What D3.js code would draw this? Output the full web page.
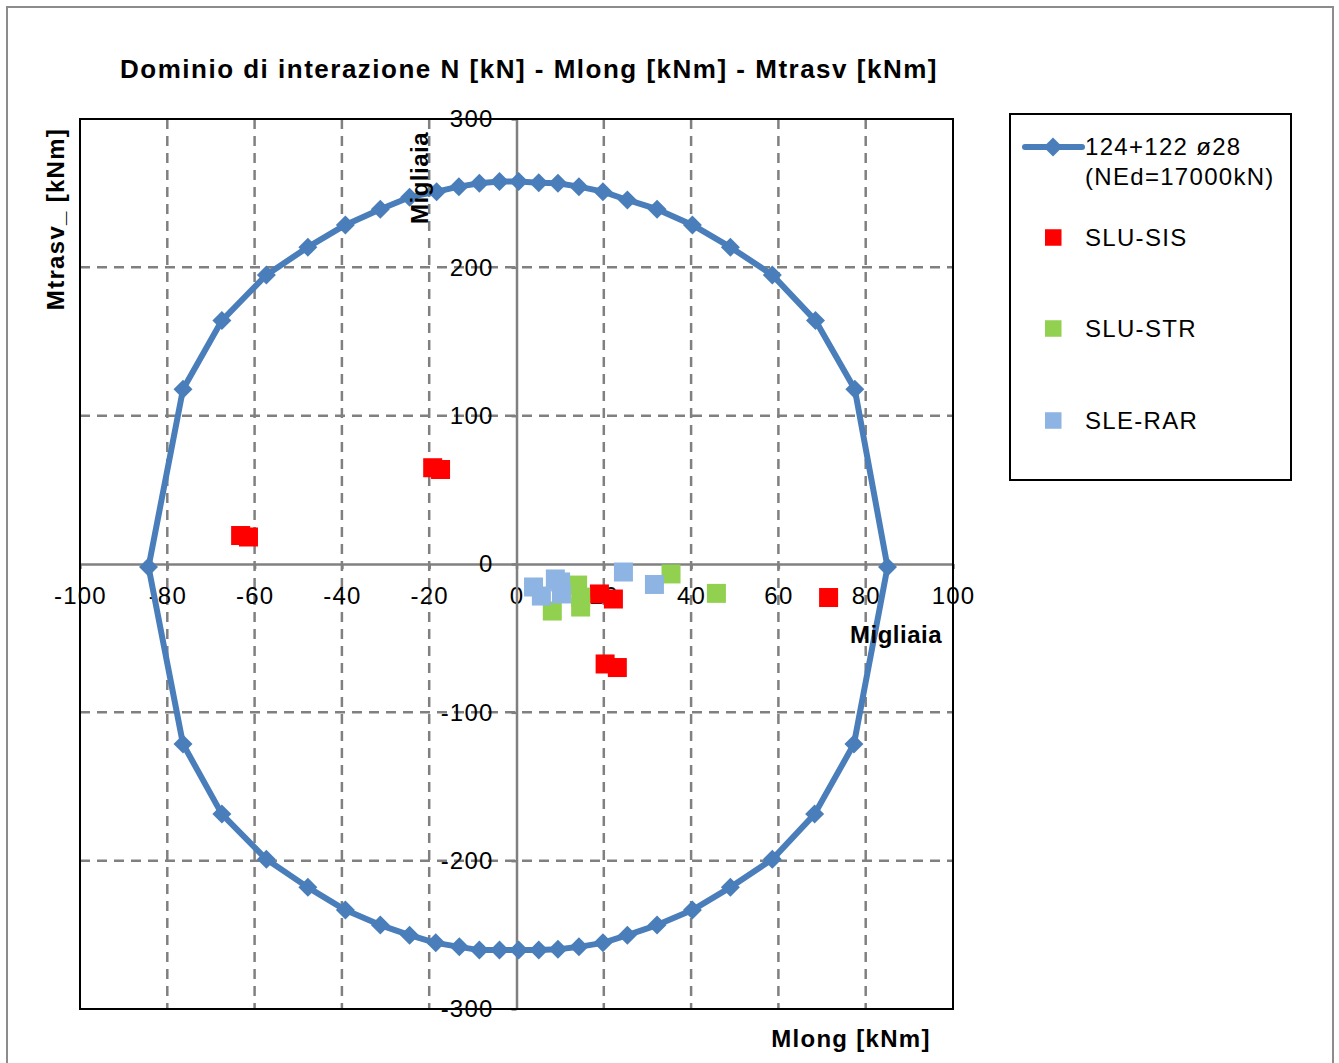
<!DOCTYPE html>
<html>
<head>
<meta charset="utf-8">
<script src="https://cdn.jsdelivr.net/npm/d3@7"></script>
<style>
  body { margin: 0; background: #fff; }
  svg text { font-family: "Liberation Sans", Arial, sans-serif; fill: #000; }
</style>
</head>
<body>
<svg id="chart" width="1339" height="1063"></svg>
<script>
// domain curve (Migliaia kNm)
const domainMlong = [85.0, 77.5, 68.5, 58.6, 49.0, 40.3, 32.2, 25.4, 19.8, 14.3, 9.5, 5.1, 0.5, -3.9, -8.5, -13.2, -18.3, -24.5, -31.2, -39.2, -47.8, -57.3, -67.5, -76.4, -84.3,
  -76.4, -67.5, -57.3, -47.8, -39.2, -31.2, -24.5, -18.5, -13.1, -8.5, -3.9, 0.5, 5.1, 9.5, 14.3, 19.8, 25.4, 32.2, 40.3, 49.0, 58.6, 68.3, 77.3, 85.0];
const domainMtrasv = [-2.0, 117.8, 164.1, 194.9, 213.6, 228.6, 239.2, 245.4, 251.0, 254.4, 256.7, 257.1, 257.8, 257.8, 256.7, 254.4, 251.0, 247.3, 239.2, 228.6, 213.6, 194.9, 164.1, 117.8, -2.0,
  -121.4, -168.6, -199.1, -218.0, -233.3, -243.4, -250.2, -255.4, -258.1, -260.3, -260.3, -260.3, -260.3, -259.8, -258.1, -255.4, -250.2, -243.4, -233.3, -218.0, -199.1, -168.6, -121.4, -2.0];

const sisMlong = [-19.2, -17.4, -63.2, -61.4, 19.0, 22.2, 20.3, 23.1, 71.5];
const sisMtrasv = [64.9, 63.7, 19.2, 18.2, -20.2, -23.6, -67.4, -69.8, -22.6];

const strMlong = [8.2, 14.0, 14.7, 14.7, 35.4, 45.8];
const strMtrasv = [-31.7, -14.2, -22.3, -29.0, -6.7, -19.8];

const rarMlong = [3.9, 5.7, 8.9, 10.1, 10.3, 24.5, 31.6];
const rarMtrasv = [-15.5, -21.6, -10.1, -12.1, -20.2, -5.4, -13.8];

const xTicks = [-100, -80, -60, -40, -20, 0, 20, 40, 60, 80, 100];
const yTicks = [-300, -200, -100, 0, 100, 200, 300];

const seriesNames = ["124+122 ø28", "SLU-SIS", "SLU-STR", "SLE-RAR"];
const colors = { line: "#4a7ebb", sis: "#ff0000", str: "#92d050", rar: "#8db4e2" };

const svg = d3.select("#chart");
const plot = { left: 80, right: 953, top: 119, bottom: 1009 };

const x = d3.scaleLinear().domain([-100, 100]).range([plot.left, plot.right]);
const y = d3.scaleLinear().domain([-300, 300]).range([plot.bottom, plot.top]);

svg.append("rect")
  .attr("x", 7).attr("y", 7)
  .attr("width", 1326).attr("height", 1070)
  .attr("fill", "#fff")
  .attr("stroke", "#8c8c8c")
  .attr("stroke-width", 2);

svg.append("text")
  .attr("x", 529).attr("y", 78)
  .attr("text-anchor", "middle")
  .style("font-size", "26px")
  .style("font-weight", "bold")
  .style("letter-spacing", "1.5px")
  .text("Dominio di interazione N [kN] - Mlong [kNm] - Mtrasv [kNm]");

// gridlines
const grid = svg.append("g")
  .attr("stroke", "#808080")
  .attr("stroke-width", 2.5)
  .attr("stroke-dasharray", "10,7");

grid.selectAll(".vgrid")
  .data(xTicks.filter(d => d !== 0 && Math.abs(d) !== 100))
  .enter()
  .append("line")
  .attr("x1", d => x(d)).attr("x2", d => x(d))
  .attr("y1", plot.top).attr("y2", plot.bottom);

grid.selectAll(".hgrid")
  .data(yTicks.filter(d => d !== 0 && Math.abs(d) !== 300))
  .enter()
  .append("line")
  .attr("x1", plot.left).attr("x2", plot.right)
  .attr("y1", d => y(d)).attr("y2", d => y(d));

// axes through the origin
const xAxis = svg.append("g")
  .attr("transform", "translate(0," + y(0) + ")")
  .call(d3.axisBottom(x).tickValues(xTicks).tickFormat(d => String(d))
    .tickSize(5).tickSizeOuter(0).tickPadding(18));

const yAxis = svg.append("g")
  .attr("transform", "translate(" + x(0) + ",0)")
  .call(d3.axisLeft(y).tickValues(yTicks).tickFormat(d => String(d))
    .tickSize(5).tickSizeOuter(0).tickPadding(18));

[xAxis, yAxis].forEach(a => {
  a.select(".domain").attr("stroke", "#808080").attr("stroke-width", 2.5);
  a.selectAll(".tick line").attr("stroke", "#808080").attr("stroke-width", 2.5);
  a.selectAll(".tick text")
    .attr("fill", "#000")
    .style("font-size", "24px")
    .style("font-family", "'Liberation Sans', Arial, sans-serif")
    .style("letter-spacing", "1.2px");
});

svg.append("rect")
  .attr("x", plot.left).attr("y", plot.top)
  .attr("width", plot.right - plot.left).attr("height", plot.bottom - plot.top)
  .attr("fill", "none")
  .attr("stroke", "#000")
  .attr("stroke-width", 2);

// domain curve
const domainPts = domainMlong.map((d, i) => [d, domainMtrasv[i]]);

svg.append("path")
  .datum(domainPts)
  .attr("fill", "none")
  .attr("stroke", colors.line)
  .attr("stroke-width", 6)
  .attr("stroke-linejoin", "round")
  .attr("d", d3.line().x(d => x(d[0])).y(d => y(d[1])));

const diamond = d3.symbol().type(d3.symbolDiamond2).size(230);

svg.append("g").selectAll("path")
  .data(domainPts.slice(0, -1))
  .enter()
  .append("path")
  .attr("transform", d => "translate(" + x(d[0]) + "," + y(d[1]) + ")")
  .attr("d", diamond)
  .attr("fill", colors.line);

// load combinations
function squares(xs, ys, color) {
  svg.append("g").selectAll("rect")
    .data(xs.map((d, i) => [d, ys[i]]))
    .enter()
    .append("rect")
    .attr("x", d => x(d[0]) - 9.5)
    .attr("y", d => y(d[1]) - 9.5)
    .attr("width", 19).attr("height", 19)
    .attr("fill", color);
}

squares(sisMlong, sisMtrasv, colors.sis);
squares(strMlong, strMtrasv, colors.str);
squares(rarMlong, rarMtrasv, colors.rar);

// axis titles
svg.append("text")
  .attr("transform", "translate(64,219) rotate(-90)")
  .attr("text-anchor", "middle")
  .style("font-size", "24px")
  .style("font-weight", "bold")
  .style("letter-spacing", "1.3px")
  .text("Mtrasv_ [kNm]");

svg.append("text")
  .attr("transform", "translate(428,178) rotate(-90)")
  .attr("text-anchor", "middle")
  .style("font-size", "24px")
  .style("font-weight", "bold")
  .style("letter-spacing", "0.5px")
  .text("Migliaia");

svg.append("text")
  .attr("x", 896).attr("y", 643)
  .attr("text-anchor", "middle")
  .style("font-size", "24px")
  .style("font-weight", "bold")
  .style("letter-spacing", "0.5px")
  .text("Migliaia");

svg.append("text")
  .attr("x", 851).attr("y", 1047)
  .attr("text-anchor", "middle")
  .style("font-size", "24px")
  .style("font-weight", "bold")
  .style("letter-spacing", "1.3px")
  .text("Mlong [kNm]");

// legend
const legend = svg.append("g");

legend.append("rect")
  .attr("x", 1010).attr("y", 114)
  .attr("width", 281).attr("height", 366)
  .attr("fill", "#fff")
  .attr("stroke", "#000")
  .attr("stroke-width", 2);

legend.append("line")
  .attr("x1", 1025).attr("x2", 1082)
  .attr("y1", 147).attr("y2", 147)
  .attr("stroke", colors.line)
  .attr("stroke-width", 6)
  .attr("stroke-linecap", "round");

legend.append("path")
  .attr("transform", "translate(1053,147)")
  .attr("d", diamond)
  .attr("fill", colors.line);

const legendText = legend.append("text")
  .attr("x", 1085).attr("y", 155)
  .style("font-size", "24px")
  .style("letter-spacing", "1.3px");
legendText.append("tspan").text(seriesNames[0]);
legendText.append("tspan").attr("x", 1085).attr("dy", 30).text("(NEd=17000kN)");

const legendItems = [
  { name: seriesNames[1], color: colors.sis, cy: 237.5 },
  { name: seriesNames[2], color: colors.str, cy: 328.5 },
  { name: seriesNames[3], color: colors.rar, cy: 420.5 }
];

legend.selectAll(".item")
  .data(legendItems)
  .enter()
  .append("rect")
  .attr("x", 1045).attr("y", d => d.cy - 8.25)
  .attr("width", 16.5).attr("height", 16.5)
  .attr("fill", d => d.color);

legend.selectAll(".label")
  .data(legendItems)
  .enter()
  .append("text")
  .attr("x", 1085).attr("y", d => d.cy + 8.5)
  .style("font-size", "24px")
  .style("letter-spacing", "1.3px")
  .text(d => d.name);
</script>
</body>
</html>
